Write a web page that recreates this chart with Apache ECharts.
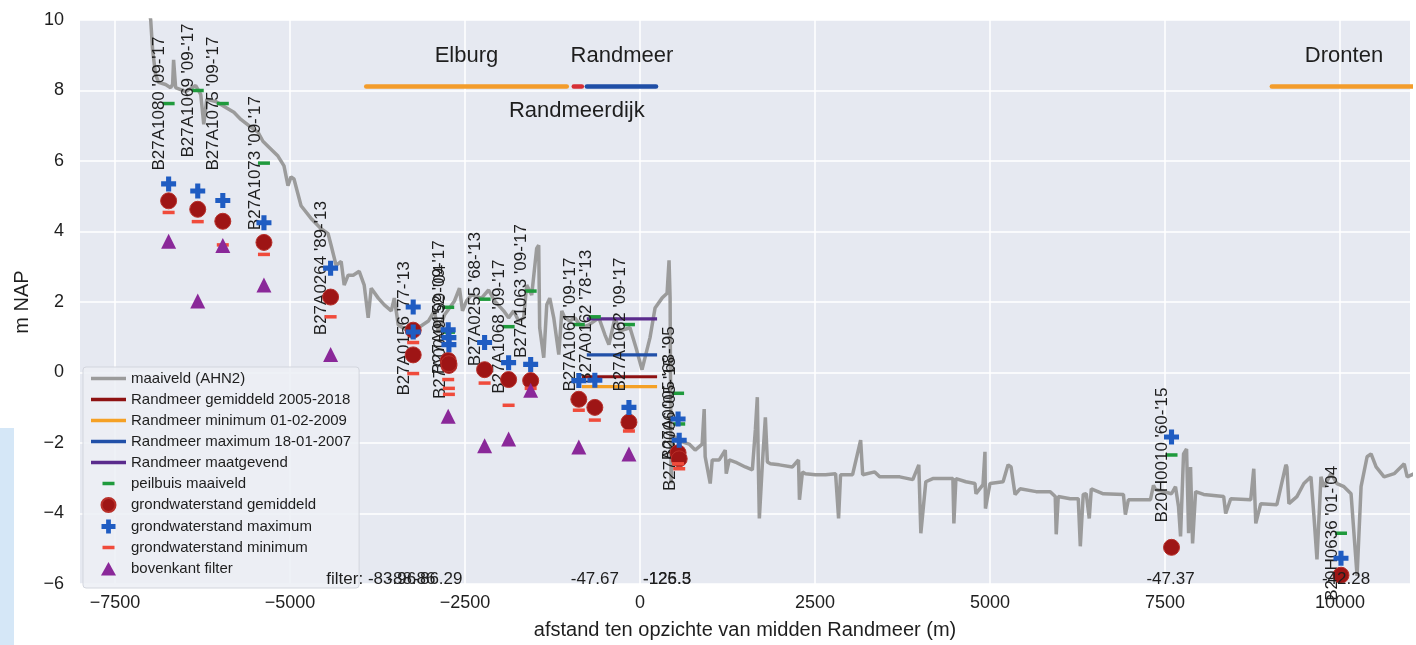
<!DOCTYPE html>
<html><head><meta charset="utf-8">
<script src="https://cdn.jsdelivr.net/npm/echarts@6/dist/echarts.min.js"></script>
<style>html,body{margin:0;padding:0;background:#fff}#c{width:1416px;height:645px}</style>
</head><body><div id="c"></div>
<script>
// ---- maaiveld profile (AHN2) ----
const profileX = [-7030,-6990,-6963,-6920,-6877,-6777,-6705,-6677,-6663,-6634,-6490,-6347,-6275,-6232,-6189,-6060,-5917,-5802,-5702,-5559,-5458,-5387,-5315,-5172,-5086,-5029,-4986,-4943,-4842,-4699,-4556,-4456,-4413,-4341,-4269,-4226,-4169,-4097,-4011,-3940,-3883,-3840,-3739,-3653,-3553,-3510,-3453,-3310,-3166,-3023,-2937,-2880,-2794,-2650,-2579,-2536,-2478,-2407,-2264,-2163,-2077,-1948,-1877,-1805,-1734,-1662,-1619,-1547,-1476,-1447,-1433,-1375,-1332,-1289,-1232,-1160,-1117,-1075,-1003,-931,-831,-731,-587,-501,-444,-358,-287,-143,-57,29,143,215,315,387,415,430,444,458,501,602,702,788,888,917,931,1003,1032,1132,1218,1232,1275,1361,1504,1605,1648,1676,1691,1705,1748,1791,1820,1863,1991,2178,2264,2278,2321,2364,2507,2651,2794,2837,2865,3037,3152,3181,3353,3424,3711,3897,3983,4012,4083,4183,4470,4484,4513,4656,4785,4800,4900,4928,4935,5000,5187,5258,5301,5358,5430,5659,5860,5932,5946,5975,6146,6261,6290,6332,6375,6418,6447,6619,6906,6934,6977,7292,7335,7364,7593,7650,7693,7722,7765,7808,7837,7865,7894,7937,8052,8338,8367,8439,8725,8768,8797,8868,9098,9227,9241,9270,9384,9484,9585,9628,9671,9728,9771,9871,9957,10057,10158,10244,10301,10387,10444,10516,10630,10774,10917,10960,11060];
const profileZ = [10.5,10.0,9.15,8.45,8.23,8.17,8.08,8.17,8.87,8.08,7.97,8.14,7.89,7.04,7.75,7.69,7.52,7.38,7.18,6.96,6.82,6.56,6.42,6.14,5.86,5.30,5.55,5.49,4.73,4.37,4.08,3.94,3.61,3.04,3.15,2.48,2.76,2.76,2.87,2.48,1.55,2.39,2.11,1.92,1.75,2.11,1.35,1.18,1.27,1.46,1.75,1.13,1.63,2.03,2.39,1.75,2.03,2.20,2.11,2.34,2.03,1.75,1.55,1.75,1.46,1.55,2.48,2.20,3.52,3.61,1.27,0.42,1.92,2.11,1.55,0.51,1.75,1.55,1.46,1.55,1.27,1.35,1.55,1.07,0.79,1.55,1.18,1.27,0.70,0.08,0.99,1.83,2.11,2.25,3.18,2.11,-3.15,-1.83,-1.83,-1.97,-2.03,-2.20,-2.03,-1.04,-2.39,-3.15,-2.48,-2.48,-2.20,-2.87,-2.48,-2.54,-2.68,-2.76,-1.63,-0.70,-2.68,-4.14,-2.59,-1.27,-2.54,-2.59,-2.62,-2.68,-2.48,-3.61,-2.82,-2.87,-2.90,-2.90,-2.87,-4.14,-2.90,-2.90,-1.92,-2.90,-2.82,-2.96,-2.96,-3.04,-2.62,-4.56,-3.10,-3.01,-3.01,-4.28,-3.01,-3.10,-3.15,-3.44,-3.18,-2.25,-3.86,-3.15,-3.10,-2.62,-2.68,-3.46,-3.30,-3.38,-3.38,-3.52,-4.59,-3.52,-3.58,-3.58,-4.93,-3.46,-3.44,-4.14,-3.30,-3.44,-3.46,-4.03,-3.61,-3.61,-3.20,-3.32,-3.44,-3.24,-3.80,-4.65,-2.31,-2.17,-4.56,-2.68,-4.85,-3.38,-3.46,-3.52,-4.00,-3.58,-3.61,-2.73,-4.28,-3.72,-3.75,-2.62,-2.68,-3.72,-3.52,-3.15,-2.96,-4.08,-5.30,-2.96,-3.24,-2.87,-3.15,-3.24,-3.44,-5.77,-3.24,-2.39,-2.31,-2.68,-2.96,-2.87,-2.59,-2.96,-2.87];

// ---- Randmeer water levels ----
const lakeNames = ['Randmeer gemiddeld 2005-2018','Randmeer minimum 01-02-2009','Randmeer maximum 18-01-2007','Randmeer maatgevend'];
const lakeLevel = [-0.12, -0.40, 0.50, 1.52];
const lakeFrom = [-830, -830, -760, -760];
const lakeTo = [244, 244, 244, 244];

// ---- peilbuizen ----
const wellNames = ["B27A1080 '09-'17","B27A1069 '09-'17","B27A1075 '09-'17","B27A1073 '09-'17","B27A0264 '89-'13","B27A0156 '77-'13","B27A0156 '77-'13","B27A0152 '09-'17","B27A0049 '99-'04","B27A0049 '99-'04","B27A0255 '68-'13","B27A1068 '09-'17","B27A1063 '09-'17","B27A1061 '09-'17","B27A0162 '78-'13","B27A1062 '09-'17","B27A0005 '68-'95","B27A0006 '05-'15","B20H0010 '60-'15","B20H0636 '01-'04"];
const wellX = [-6734,-6318,-5960,-5372,-4420,-3240,-3240,-2740,-2730,-2730,-2220,-1877,-1562,-874,-645,-158,544,560,7593,10014];
const wellMaaiveld = [7.63,8.00,7.63,5.94,2.96,1.25,1.25,1.85,1.15,1.15,2.08,1.30,2.31,1.36,1.58,1.36,-0.59,-1.46,-2.34,-4.56];
const gwMean = [4.87,4.63,4.29,3.69,2.14,1.20,0.50,0.34,0.20,0.25,0.08,-0.20,-0.23,-0.76,-0.99,-1.41,-2.28,-2.45,-4.96,-5.75];
const gwMax = [5.35,5.15,4.88,4.25,2.96,1.86,1.15,1.21,0.99,0.79,0.85,0.28,0.23,-0.23,-0.22,-0.99,-1.32,-1.92,-1.83,-5.27];
const gwMin = [4.54,4.28,3.62,3.35,1.58,0.85,-0.03,-0.20,-0.62,-0.45,-0.30,-0.93,-0.45,-1.07,-1.35,-1.66,-2.59,-2.73,null,null];
const filterTop = [3.72,2.03,3.60,2.48,0.51,null,null,-1.24,null,null,-2.08,-1.89,-0.50,-2.11,null,-2.31,null,null,null,null];

// ---- deep filter annotations (below axis) ----
const filterLabelX = [-3840,-3266,-2880,387,387,-645,7579,10086];
const filterLabelText = ['filter: -83.96','-88.86','-86.29','-126.3','-125.5','-47.67','-47.37','-42.28'];
const filterLabelY = -5.86;

// ---- area bars & names ----
const barFrom = [-3911, -946, -759, 9026];
const barTo = [-1046, -831, 229, 11100];
const barLevel = 8.11;
const regionNames = ['Elburg','Randmeer','Randmeerdijk','Dronten'];
const regionX = [-2479, -258, -903, 10057];
const regionY = [8.99, 8.99, 7.43, 8.99];

// ---- ticks ----
const xTicks = [-7500,-5000,-2500,0,2500,5000,7500,10000];

const FONT = '"Liberation Sans", Arial, Helvetica, sans-serif';
const TXT = '#1e1e1e';
const minus = v => String(v).replace('-', '\u2212');
const PLUS = 'path://M3.3,0h3.4v3.3h3.3v3.4h-3.3v3.3h-3.4v-3.3h-3.3v-3.4h3.3z';
const DASH_ICON = 'path://M0,0M35,14M11.5,5.25h12v3.5h-12z';
const LINE_ICON = 'path://M0,0M35,14M0,5.2h35v3.6h-35z';
const TRI_ICON = 'path://M0,0M35,14M17.5,0.5L25,14H10z';

const lakeColors = ['#8e1212', '#f5a125', '#2150a8', '#5a2b8c'];
const barColors = ['#f39c2b', '#d62f35', '#1f4ea6', '#f39c2b'];
const labelBase = { opacity: 1, color: TXT, fontFamily: FONT, textBorderWidth: 0 };

const series = [];
series.push({
  name: 'maaiveld (AHN2)', type: 'line', z: 1,
  data: profileX.map((x, i) => [x, profileZ[i]]),
  symbol: 'none', lineStyle: { color: '#9b9b9b', width: 3.5, opacity: 1 }, itemStyle: { color: '#9b9b9b' }
});
lakeNames.forEach((n, i) => series.push({
  name: n, type: 'line', z: 3, symbol: 'none',
  data: [[lakeFrom[i], lakeLevel[i]], [lakeTo[i], lakeLevel[i]]],
  lineStyle: { color: lakeColors[i], width: 3.2, opacity: 1 }, itemStyle: { color: lakeColors[i] }
}));
barFrom.forEach((f, i) => series.push({
  name: 'bar' + i, type: 'line', z: 3, symbol: 'none',
  data: [[f, barLevel], [barTo[i], barLevel]],
  lineStyle: { color: barColors[i], width: 4.5, cap: 'round', opacity: 1 }
}));
const firstIdx = (arr, i) => arr.findIndex((v, j) => v === arr[i] && wellX[j] === wellX[i]) === i;
series.push({
  name: 'peilbuis maaiveld', type: 'scatter', z: 4,
  symbol: 'rect', symbolSize: [12, 3.5], itemStyle: { color: '#1f9a3c', opacity: 1 },
  data: wellX.map((x, i) => ({ name: wellNames[i], value: [x, wellMaaiveld[i]],
    label: { show: firstIdx(wellNames, i) } })),
  label: Object.assign({ show: true, formatter: '{b}', rotate: 90, position: 'inside', offset: [0, -9], fontSize: 17 }, labelBase)
});
series.push({
  name: 'grondwaterstand gemiddeld', type: 'scatter', z: 5, symbol: 'circle', symbolSize: 16,
  itemStyle: { color: '#9e1515', borderColor: '#b8302a', borderWidth: 1, opacity: 1 },
  data: wellX.map((x, i) => [x, gwMean[i]])
});
series.push({
  name: 'grondwaterstand maximum', type: 'scatter', z: 6, symbol: PLUS, symbolSize: 15,
  itemStyle: { color: '#1f5cc2', opacity: 1 },
  data: wellX.map((x, i) => [x, gwMax[i]])
});
series.push({
  name: 'grondwaterstand minimum', type: 'scatter', z: 6, symbol: 'rect', symbolSize: [12, 3.5],
  itemStyle: { color: '#f04b3b', opacity: 1 },
  data: wellX.map((x, i) => [x, gwMin[i]])
});
series.push({
  name: 'bovenkant filter', type: 'scatter', z: 6, symbol: 'triangle', symbolSize: 15,
  itemStyle: { color: '#8a2899', opacity: 1 },
  data: wellX.map((x, i) => [x, filterTop[i]])
});
series.push({
  name: 'filterlabels', type: 'scatter', z: 7, symbolSize: 0.1, itemStyle: { color: TXT, opacity: 1 },
  data: filterLabelX.map((x, i) => ({ name: filterLabelText[i], value: [x, filterLabelY] })),
  label: Object.assign({ show: true, formatter: '{b}', position: 'inside', fontSize: 17 }, labelBase)
});
series.push({
  name: 'regions', type: 'scatter', z: 7, symbolSize: 0.1, itemStyle: { color: TXT, opacity: 1 },
  data: regionX.map((x, i) => ({ name: regionNames[i], value: [x, regionY[i]] })),
  label: Object.assign({ show: true, formatter: '{b}', position: 'inside', fontSize: 22 }, labelBase)
});

const chart = echarts.init(document.getElementById('c'));
chart.setOption({
  animation: false,
  backgroundColor: '#ffffff',
  textStyle: { fontFamily: FONT },
  grid: { left: 80, right: 6, top: 20, bottom: 57, show: true, backgroundColor: '#e6e9f1', borderWidth: 0 },
  graphic: [{ type: 'rect', left: 0, top: 428, shape: { width: 14, height: 217 }, style: { fill: '#d5e7f7' }, z: -1 }],
  xAxis: {
    type: 'value', min: -8000, max: 11000,
    name: 'afstand ten opzichte van midden Randmeer (m)', nameLocation: 'middle', nameGap: 36,
    nameTextStyle: { fontSize: 20, color: TXT, fontFamily: FONT },
    axisLine: { show: false },
    axisTick: { show: false, customValues: xTicks },
    axisLabel: { customValues: xTicks, formatter: minus, fontSize: 18, color: TXT, margin: 10, fontFamily: FONT },
    splitLine: { show: true, lineStyle: { color: '#ffffff', width: 1.5 } }
  },
  yAxis: {
    type: 'value', min: -6, max: 10, interval: 2,
    name: 'm NAP', nameLocation: 'middle', nameGap: 32,
    nameTextStyle: { fontSize: 20, color: TXT, fontFamily: FONT },
    axisLine: { show: false }, axisTick: { show: false },
    axisLabel: { formatter: minus, fontSize: 18, color: TXT, margin: 16, fontFamily: FONT },
    splitLine: { show: true, lineStyle: { color: '#ffffff', width: 1.5 } }
  },
  legend: {
    orient: 'vertical', left: 83, top: 367, padding: [4, 8, 12, 8], itemGap: 6,
    itemWidth: 35, itemHeight: 14,
    backgroundColor: 'rgba(236,238,245,0.85)', borderColor: '#d2d5dd', borderWidth: 1, borderRadius: 3,
    textStyle: { fontSize: 15, color: TXT, fontFamily: FONT },
    data: [
      { name: 'maaiveld (AHN2)', icon: LINE_ICON },
      { name: lakeNames[0], icon: LINE_ICON }, { name: lakeNames[1], icon: LINE_ICON },
      { name: lakeNames[2], icon: LINE_ICON }, { name: lakeNames[3], icon: LINE_ICON },
      { name: 'peilbuis maaiveld', icon: DASH_ICON },
      { name: 'grondwaterstand gemiddeld', icon: 'circle' },
      { name: 'grondwaterstand maximum', icon: PLUS },
      { name: 'grondwaterstand minimum', icon: DASH_ICON },
      { name: 'bovenkant filter', icon: TRI_ICON }
    ]
  },
  series
});
</script></body></html>
